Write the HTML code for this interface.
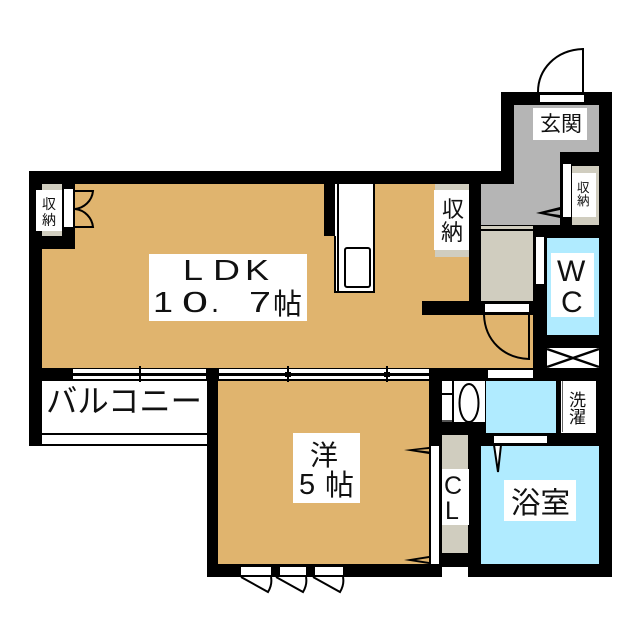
<!DOCTYPE html>
<html><head><meta charset="utf-8"><style>
html,body{margin:0;padding:0;background:#fff}
svg{display:block}
text{font-family:"Liberation Sans","Noto Sans CJK JP",sans-serif;fill:#111}
</style></head><body>
<svg width="640" height="640" viewBox="0 0 640 640" xmlns="http://www.w3.org/2000/svg">
<!-- black base walls -->
<g fill="#000">
<rect x="501" y="92" width="111" height="485"/>
<rect x="29" y="171" width="485" height="210"/>
<rect x="29" y="368" width="13" height="78"/>
<rect x="207" y="368" width="405" height="209"/>
</g>
<!-- fills -->
<rect x="42" y="184" width="427" height="184" fill="#e0b46e"/>
<rect x="469" y="315" width="64" height="53" fill="#e0b46e"/>
<rect x="422" y="301" width="47" height="14" fill="#e0b46e"/>
<rect x="42" y="184" width="33" height="65" fill="#000"/>
<rect x="42" y="184" width="20" height="52" fill="#d0cdbf"/>
<rect x="36" y="190" width="26" height="41" fill="#fff"/>
<rect x="64" y="189" width="9" height="38" fill="#fff"/>
<rect x="435" y="184" width="34" height="73" fill="#d0cdbf"/>
<rect x="434" y="190" width="35" height="60" fill="#fff"/>
<rect x="469" y="184" width="12" height="131" fill="#000"/>
<rect x="422" y="301" width="111" height="14" fill="#000"/>
<rect x="485" y="304" width="44" height="8" fill="#fff"/>
<rect x="324" y="184" width="12" height="52" fill="#000"/>
<!-- entry -->
<path d="M514 105H599V152H560V225H481V184H514Z" fill="#b5b5b5"/>
<rect x="481" y="226" width="52" height="75" fill="#d0cdbf"/>
<rect x="481" y="229" width="52" height="2" fill="#000"/>
<rect x="533" y="225" width="79" height="13" fill="#000"/>
<rect x="560" y="152" width="52" height="14" fill="#000"/>
<rect x="560" y="152" width="13" height="80" fill="#000"/>
<rect x="572" y="166" width="27" height="59" fill="#d0cdbf"/>
<rect x="572" y="173" width="24" height="44" fill="#fff"/>
<rect x="563" y="164" width="8" height="53" fill="#fff"/>
<rect x="540" y="95" width="44" height="7" fill="#fff"/>
<rect x="533" y="108" width="54" height="32" fill="#fff"/>
<path d="M560 207 L536 213 L560 218 L560 215 L546 213 L560 210Z" fill="#000"/>
<path d="M538 92C538 70 555 50 583 49V92" fill="#fff" stroke="#000" stroke-width="2"/>
<!-- WC -->
<rect x="547" y="238" width="52" height="97" fill="#b0ebff"/>
<rect x="551" y="253" width="43" height="64" fill="#fff"/>
<rect x="536" y="237" width="8" height="47" fill="#fff"/>
<!-- X box -->
<rect x="547" y="348" width="52" height="20" fill="#fff"/>
<path d="M547 349L599 367M599 349L547 367" stroke="#000" stroke-width="2.5"/>
<!-- door to corridor -->
<path d="M484 315C485 340 503 358 529 359V315" fill="none" stroke="#000" stroke-width="2"/>
<rect x="488" y="370" width="45" height="8" fill="#fff"/>
<!-- toilet/wash -->
<rect x="442" y="381" width="43" height="41" fill="#fff"/>
<rect x="452" y="381" width="2" height="41" fill="#000"/>
<rect x="442" y="393" width="10" height="2" fill="#000"/>
<rect x="442" y="420" width="10" height="2" fill="#555"/>
<ellipse cx="469" cy="403" rx="9.5" ry="19" fill="#fff" stroke="#000" stroke-width="2"/>
<rect x="486" y="381" width="70" height="52" fill="#b0ebff"/>
<rect x="559" y="381" width="39" height="54" fill="#fff"/>
<rect x="559" y="381" width="2" height="54" fill="#000"/>
<rect x="559" y="433" width="39" height="2" fill="#000"/>
<rect x="596" y="381" width="2" height="54" fill="#000"/>
<rect x="562" y="381" width="1" height="51" fill="#666"/>
<!-- bath -->
<rect x="481" y="446" width="118" height="118" fill="#b0ebff"/>
<rect x="494" y="436" width="53" height="7" fill="#fff"/>
<path d="M494 445L498 472L501 445Z" fill="#fff" stroke="#000" stroke-width="2"/>
<rect x="504" y="480" width="72" height="41" fill="#fff"/>
<!-- closet -->
<rect x="442" y="435" width="26" height="118" fill="#d0cdbf"/>
<rect x="442" y="469" width="27" height="56" fill="#fff"/>
<rect x="442" y="567" width="26" height="12" fill="#fff"/>
<!-- western room -->
<rect x="218" y="381" width="211" height="183" fill="#e0b46e"/>
<rect x="431" y="446" width="8" height="118" fill="#fff"/>
<rect x="293" y="433" width="67" height="70" fill="#fff"/>
<path d="M429 447L404 450L429 454L429 451.5L416 450L429 449Z" fill="#000"/>
<path d="M429 556L404 560L429 564L429 562L416 560L429 558Z" fill="#000"/>
<!-- balcony -->
<rect x="42" y="381" width="165" height="52" fill="#fff"/>
<rect x="42" y="435" width="165" height="9" fill="#fff"/>
<rect x="42" y="433" width="165" height="2" fill="#000"/>
<rect x="42" y="444" width="165" height="2" fill="#000"/>
<!-- rails -->
<rect x="73" y="369" width="133" height="10" fill="#fff"/>
<rect x="73" y="373" width="133" height="3" fill="#000"/>
<rect x="139" y="366" width="2" height="16" fill="#000"/>
<rect x="137" y="373" width="6" height="3" fill="#000"/>
<rect x="219" y="369" width="210" height="10" fill="#fff"/>
<rect x="219" y="373" width="210" height="3" fill="#000"/>
<rect x="287" y="366" width="2" height="16" fill="#000"/>
<rect x="285" y="372" width="6" height="5" fill="#000"/>
<rect x="386" y="366" width="2" height="16" fill="#000"/>
<rect x="384" y="372" width="6" height="5" fill="#000"/>
<!-- bottom windows -->
<rect x="241" y="567" width="30" height="8" fill="#fff"/>
<rect x="280" y="567" width="26" height="8" fill="#fff"/>
<rect x="315" y="567" width="28" height="8" fill="#fff"/>
<path d="M241 577L268 592C271 587 272 582 271 577M276 577L303 592C306 587 307 582 306 577M313 577L340 592C343 587 344 582 343 577" fill="#fff" stroke="#000" stroke-width="2"/>
<!-- kitchen -->
<rect x="335" y="184" width="3" height="108" fill="#fff"/>
<rect x="334" y="236" width="2" height="57" fill="#000"/>
<rect x="337" y="184" width="2" height="108" fill="#000"/>
<rect x="339" y="184" width="34" height="108" fill="#fff"/>
<rect x="373" y="184" width="2" height="109" fill="#000"/>
<rect x="334" y="291" width="41" height="2" fill="#000"/>
<rect x="345" y="248" width="25" height="39" rx="2" fill="#fff" stroke="#000" stroke-width="2"/>
<!-- left closet door arcs -->
<path d="M75 191H93C92 201 84 208 75 209C85 210 92 218 93 227H75" fill="none" stroke="#000" stroke-width="2"/>
<!-- LDK label -->
<rect x="149" y="254" width="158" height="67" fill="#fff"/>
<!-- labels -->
<text x="183" y="280" font-size="29" textLength="20" lengthAdjust="spacingAndGlyphs">L</text>
<text x="213" y="280" font-size="29" textLength="27" lengthAdjust="spacingAndGlyphs">D</text>
<text x="245" y="280" font-size="29" textLength="24" lengthAdjust="spacingAndGlyphs">K</text>
<text x="153" y="312" font-size="29" textLength="20" lengthAdjust="spacingAndGlyphs">1</text>
<text x="182" y="312" font-size="29" textLength="26" lengthAdjust="spacingAndGlyphs">0</text>
<text x="211" y="312" font-size="29">.</text>
<text x="249" y="312" font-size="29" textLength="22" lengthAdjust="spacingAndGlyphs">7</text>
<text x="273" y="314" font-size="29">帖</text>
<text x="42" y="209" font-size="14">収</text>
<text x="42" y="225" font-size="14">納</text>
<text x="442" y="217" font-size="22">収</text>
<text x="441" y="240" font-size="22">納</text>
<text x="577" y="192" font-size="12.5">収</text>
<text x="577" y="205" font-size="12.5">納</text>
<text x="540" y="131" font-size="21">玄関</text>
<text x="557" y="281" font-size="30">W</text>
<text x="561" y="312" font-size="30">C</text>
<text x="569" y="406" font-size="17">洗</text>
<text x="569" y="423" font-size="17">濯</text>
<text x="511" y="513" font-size="29.5">浴室</text>
<text x="444" y="494" font-size="25">C</text>
<text x="445" y="519" font-size="25">L</text>
<text x="310" y="465" font-size="28">洋</text>
<text x="299" y="494" font-size="29">5</text>
<text x="325" y="495" font-size="29">帖</text>
<text x="46" y="412" font-size="32" textLength="156" lengthAdjust="spacingAndGlyphs">バルコニー</text>
</svg>
</body></html>
